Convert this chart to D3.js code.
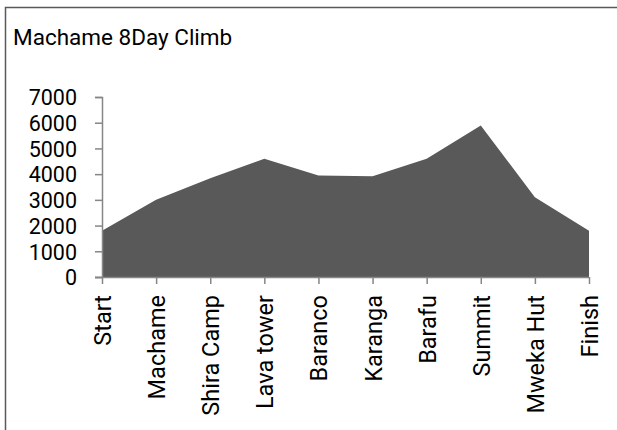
<!DOCTYPE html>
<html><head><meta charset="utf-8">
<script src="https://cdn.jsdelivr.net/npm/d3@7"></script>
<style>body{margin:0;background:#fff;} svg{display:block;}</style>
</head><body>
<svg id="c" width="617" height="430"></svg>
<script>
const categories = ["Start","Machame","Shira Camp","Lava tower","Baranco","Karanga","Barafu","Summit","Mweka Hut","Finish"];
const altitudes = [1800,3000,3840,4600,3950,3920,4600,5895,3100,1800];
const yTicks = [0,1000,2000,3000,4000,5000,6000,7000];
const title = "Machame 8Day Climb";

const FONT = "Roboto, 'Open Sans', sans-serif";
const svg = d3.select("#c");
// outer chart border
svg.append("rect").attr("x",5.5).attr("y",7.5).attr("width",640).attr("height",460)
  .attr("fill","none").attr("stroke","#595959").attr("stroke-width",1.5);

svg.append("text").attr("x",13).attr("y",45).attr("font-family",FONT).attr("font-size",22.5)
  .attr("fill","#000").text(title);

const x = d3.scalePoint().domain(categories).range([102,589]);
const y = d3.scaleLinear().domain([0,7000]).range([277,97]);

const area = d3.area().x((d,i)=>x(categories[i])).y0(y(0)).y1(d=>y(d)).curve(d3.curveLinear);
svg.append("path").datum(altitudes).attr("d",area).attr("fill","#595959");

const yAxis = d3.axisLeft(y).tickValues(yTicks).tickSize(7).tickPadding(18).tickFormat(d3.format("d"));
const gy = svg.append("g").attr("transform","translate(102,0)").call(yAxis);
gy.select(".domain").attr("stroke","#868686").attr("stroke-width",1.5);
gy.selectAll(".tick line").attr("stroke","#868686").attr("stroke-width",1.5);
gy.selectAll("text").attr("font-family",FONT).attr("font-size",21.5).attr("fill","#000").attr("dy","0.36em");

const xAxis = d3.axisBottom(x).tickSize(7).tickSizeOuter(0);
const gx = svg.append("g").attr("transform","translate(0,277)").call(xAxis);
gx.select(".domain").attr("stroke","#868686").attr("stroke-width",1.5).attr("d","M95,0.5H589");
gx.selectAll(".tick line").attr("stroke","#868686").attr("stroke-width",1.5);
gx.selectAll("text").attr("font-family",FONT).attr("font-size",23.5).attr("fill","#000")
  .attr("transform","rotate(-90)").attr("text-anchor","end").attr("x",-18).attr("y",0).attr("dy","0.36em");
</script>
</body></html>
